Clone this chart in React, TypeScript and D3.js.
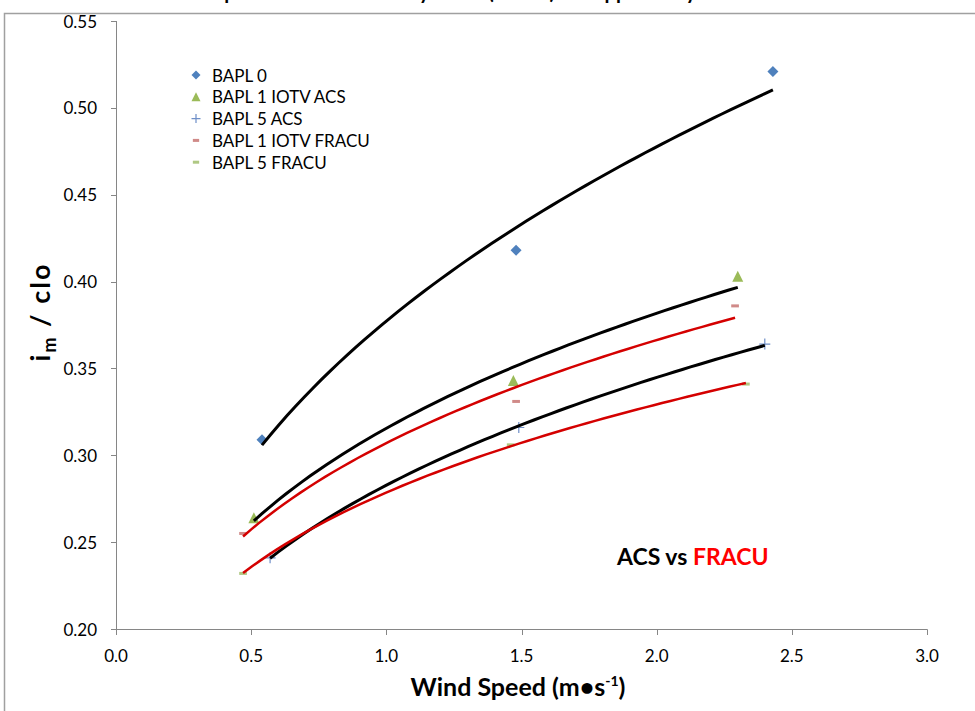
import React, { useEffect, useRef } from 'react';
import * as d3 from 'd3';

// series
const seriesNames = ['BAPL 0', 'BAPL 1 IOTV ACS', 'BAPL 5 ACS', 'BAPL 1 IOTV FRACU', 'BAPL 5 FRACU'];
const bapl0X = [0.54, 1.48, 2.43];
const bapl0Y = [0.309, 0.418, 0.521];
const bapl1AcsX = [0.51, 1.47, 2.30];
const bapl1AcsY = [0.264, 0.343, 0.403];
const bapl5AcsX = [0.57, 1.49, 2.40];
const bapl5AcsY = [0.241, 0.316, 0.364];
const bapl1FracuX = [0.47, 1.48, 2.29];
const bapl1FracuY = [0.255, 0.331, 0.386];
const bapl5FracuX = [0.47, 1.46, 2.33];
const bapl5FracuY = [0.232, 0.306, 0.341];

const xTicks = [0, 0.5, 1.0, 1.5, 2.0, 2.5, 3.0];
const yTicks = [0.2, 0.25, 0.3, 0.35, 0.4, 0.45, 0.5, 0.55];

const FONT = 'Lato, "Open Sans", sans-serif';

// Excel-style power trendline: y = b * x^a (least squares on logs)
function powerFit(xs: number[], ys: number[]) {
  const lx = xs.map(Math.log);
  const ly = ys.map(Math.log);
  const mx = d3.mean(lx) as number;
  const my = d3.mean(ly) as number;
  let sxy = 0, sxx = 0;
  lx.forEach((v, i) => { sxy += (v - mx) * (ly[i] - my); sxx += (v - mx) * (v - mx); });
  const a = sxy / sxx;
  const b = my - a * mx;
  return (x: number) => Math.exp(b + a * Math.log(x));
}

function App() {
  const ref = useRef<SVGSVGElement>(null);

  useEffect(() => {
    const svg = d3.select(ref.current);
    svg.selectAll('*').remove();

    const x = d3.scaleLinear().domain([0, 3]).range([116, 927]);
    const y = d3.scaleLinear().domain([0.2, 0.55]).range([629, 21]);

    const series = [
      { name: seriesNames[0], xs: bapl0X, ys: bapl0Y, marker: 'diamond', color: '#4F81BD', trend: '#000' },
      { name: seriesNames[1], xs: bapl1AcsX, ys: bapl1AcsY, marker: 'triangle', color: '#9BBB59', trend: '#000' },
      { name: seriesNames[2], xs: bapl5AcsX, ys: bapl5AcsY, marker: 'plus', color: '#6F8FC8', trend: '#000' },
      { name: seriesNames[3], xs: bapl1FracuX, ys: bapl1FracuY, marker: 'dash', color: '#D08A88', trend: '#D40000' },
      { name: seriesNames[4], xs: bapl5FracuX, ys: bapl5FracuY, marker: 'dash', color: '#AFC883', trend: '#D40000' },
    ];

    const drawMarker = (g: any, kind: string, color: string, cx: number, cy: number, s: number) => {
      if (kind === 'diamond') {
        g.append('path')
          .attr('d', `M${cx},${cy - s / 2}L${cx + s / 2},${cy}L${cx},${cy + s / 2}L${cx - s / 2},${cy}Z`)
          .attr('fill', color);
      } else if (kind === 'triangle') {
        g.append('path')
          .attr('d', `M${cx},${cy - s / 2}L${cx + s / 2},${cy + s / 2}L${cx - s / 2},${cy + s / 2}Z`)
          .attr('fill', color);
      } else if (kind === 'plus') {
        g.append('path')
          .attr('d', `M${cx - s / 2},${cy}H${cx + s / 2}M${cx},${cy - s / 2}V${cy + s / 2}`)
          .attr('stroke', color).attr('stroke-width', 1.2).attr('fill', 'none');
      } else {
        g.append('rect')
          .attr('x', cx - s * 0.35).attr('y', cy - 1.5)
          .attr('width', s * 0.7).attr('height', 3)
          .attr('fill', color);
      }
    };

    // chart frame
    svg.append('path')
      .attr('d', 'M4.5,711V13.5H975')
      .attr('fill', 'none').attr('stroke', '#a0a0a0').attr('stroke-width', 1.5);

    // title (cut off at the top of the picture, only descenders show)
    svg.append('text')
      .attr('x', 470).attr('y', -1.5)
      .attr('text-anchor', 'middle')
      .attr('font-family', FONT).attr('font-weight', 'bold').attr('font-size', 20)
      .text('Comparison of Permeability Index (im/clo) for Upper Body Armor');

    // axes
    const axisColor = '#868686';
    svg.append('line').attr('x1', 116.5).attr('x2', 116.5).attr('y1', y(0.55)).attr('y2', 629.5)
      .attr('stroke', axisColor);
    svg.append('line').attr('x1', 116).attr('x2', 927.5).attr('y1', 629.5).attr('y2', 629.5)
      .attr('stroke', axisColor);

    yTicks.forEach((t) => {
      const py = Math.round(y(t)) + 0.5;
      svg.append('line').attr('x1', 111).attr('x2', 116.5).attr('y1', py).attr('y2', py).attr('stroke', axisColor);
      svg.append('text')
        .attr('x', 97).attr('y', y(t))
        .attr('text-anchor', 'end').attr('dominant-baseline', 'central')
        .attr('font-family', FONT).attr('font-size', 17).attr('fill', '#000')
        .text(t.toFixed(2));
    });

    xTicks.forEach((t) => {
      const px = Math.round(x(t)) + 0.5;
      svg.append('line').attr('x1', px).attr('x2', px).attr('y1', 629.5).attr('y2', 635).attr('stroke', axisColor);
      svg.append('text')
        .attr('x', x(t)).attr('y', 655)
        .attr('text-anchor', 'middle').attr('dominant-baseline', 'central')
        .attr('font-family', FONT).attr('font-size', 17).attr('fill', '#000')
        .text(t.toFixed(1));
    });

    // axis titles
    const xt = svg.append('text')
      .attr('x', 518).attr('y', 696)
      .attr('text-anchor', 'middle')
      .attr('font-family', FONT).attr('font-weight', 'bold').attr('font-size', 25);
    xt.append('tspan').text('Wind Speed (m\u2022s');
    xt.append('tspan').attr('font-size', 14).attr('dy', -10).text('-1');
    xt.append('tspan').attr('dy', 10).text(')');

    const yt = svg.append('text')
      .attr('transform', 'translate(50,312) rotate(-90)')
      .attr('text-anchor', 'middle')
      .attr('letter-spacing', 2)
      .attr('font-family', FONT).attr('font-weight', 'bold').attr('font-size', 27);
    yt.append('tspan').text('i');
    yt.append('tspan').attr('font-size', 18).attr('dy', 6).text('m');
    yt.append('tspan').attr('dy', -6).text(' / clo');

    // markers
    const marks = svg.append('g');
    series.forEach((s) => {
      s.xs.forEach((v, i) => drawMarker(marks, s.marker, s.color, x(v), y(s.ys[i]), 11));
    });

    // trendlines
    const line = d3.line<number[]>().x((d) => x(d[0])).y((d) => y(d[1]));
    series.forEach((s) => {
      const f = powerFit(s.xs, s.ys);
      const [lo, hi] = d3.extent(s.xs) as [number, number];
      const pts = d3.range(0, 61).map((k) => {
        const xv = lo + ((hi - lo) * k) / 60;
        return [xv, f(xv)];
      });
      svg.append('path')
        .attr('d', line(pts))
        .attr('fill', 'none')
        .attr('stroke', s.trend)
        .attr('stroke-width', s.trend === '#000' ? 3 : 2.5);
    });

    // legend
    const legend = svg.append('g');
    series.forEach((s, i) => {
      const ly = 75 + i * 21.8;
      drawMarker(legend, s.marker, s.color, 196, ly, 9);
      legend.append('text')
        .attr('x', 212).attr('y', ly)
        .attr('dominant-baseline', 'central')
        .attr('font-family', FONT).attr('font-size', 17).attr('fill', '#000')
        .text(s.name);
    });

    // annotation
    const note = svg.append('text')
      .attr('x', 617).attr('y', 565)
      .attr('font-family', FONT).attr('font-weight', 'bold').attr('font-size', 23);
    note.append('tspan').attr('fill', '#000').text('ACS vs ');
    note.append('tspan').attr('fill', '#FF0000').text('FRACU');
  }, []);

  return (
    <svg
      ref={ref}
      width="975"
      height="711"
      style={{ position: 'absolute', left: 0, top: 0, background: '#fff' }}
    ></svg>
  );
}

export default App;
